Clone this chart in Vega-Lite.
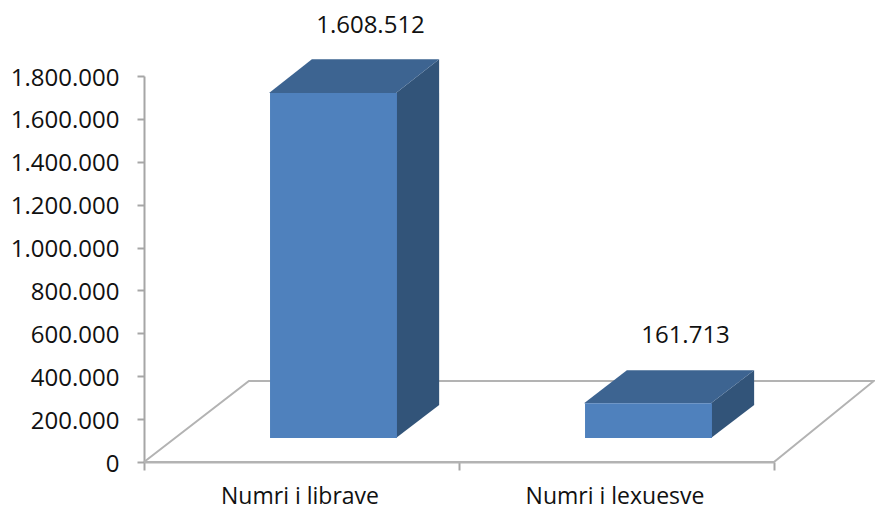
{
"$schema":"https://vega.github.io/schema/vega-lite/v6.json",
"width":630,"height":386,
"autosize":{"type":"none"},
"padding":{"left":144,"top":76,"right":101,"bottom":47},
"background":"white",
"config":{"view":{"stroke":null},"locale":{"number":{"decimal":",","thousands":".","grouping":[3],"currency":["","€"]}}},
"datasets":{
"bars":[{"category":"Numri i librave","value":1608512},{"category":"Numri i lexuesve","value":161713}],
"floor":[
{"px":0,"py":0,"o":1},{"px":0.333,"py":378000,"o":2},{"px":2.317,"py":378000,"o":3},{"px":2,"py":0,"o":4},{"px":0,"py":0,"o":5}],
"faces":[
{"face":"side1","shade":"side","px":0.8,"lo":112000,"hi":1720512},
{"face":"side1","shade":"side","px":0.937,"lo":266000,"hi":1878000},
{"face":"top1","shade":"top","px":0.397,"lo":1720512,"hi":1720512},
{"face":"top1","shade":"top","px":0.533,"lo":1720512,"hi":1878000},
{"face":"top1","shade":"top","px":0.8,"lo":1720512,"hi":1878000},
{"face":"top1","shade":"top","px":0.937,"lo":1878000,"hi":1878000},
{"face":"side2","shade":"side","px":1.8,"lo":112000,"hi":273713},
{"face":"side2","shade":"side","px":1.937,"lo":266000,"hi":427713},
{"face":"top2","shade":"top","px":1.397,"lo":273713,"hi":273713},
{"face":"top2","shade":"top","px":1.533,"lo":273713,"hi":427713},
{"face":"top2","shade":"top","px":1.8,"lo":273713,"hi":427713},
{"face":"top2","shade":"top","px":1.937,"lo":427713,"hi":427713}
]},
"layer":[
{"data":{"name":"floor"},
"mark":{"type":"line","stroke":"#b3b3b3","strokeWidth":2,"clip":false,"interpolate":"linear"},
"encoding":{
"x":{"field":"px","type":"quantitative","scale":{"domain":[0,2],"nice":false,"zero":false},"axis":null},
"y":{"field":"py","type":"quantitative","scale":{"domain":[0,1800000],"nice":false},
"axis":{"title":null,"values":[0,200000,400000,600000,800000,1000000,1200000,1400000,1600000,1800000],"format":",d","grid":false,"domainColor":"#a6a6a6","domainWidth":2,"tickColor":"#a6a6a6","tickWidth":2,"tickSize":7,"labelFont":"Open Sans","labelFontSize":24,"labelColor":"#111111","labelPadding":18,"labelOffset":2}},
"order":{"field":"o"}}},
{"data":{"name":"faces"},
"mark":{"type":"area","clip":false},
"encoding":{
"x":{"field":"px","type":"quantitative","scale":{"domain":[0,2],"nice":false,"zero":false},"axis":null},
"y":{"field":"hi","type":"quantitative"},
"y2":{"field":"lo"},
"detail":{"field":"face"},
"color":{"field":"shade","type":"nominal","scale":{"domain":["side","top"],"range":["#325479","#3D6491"]},"legend":null}}},
{"data":{"name":"bars"},
"layer":[
{"mark":{"type":"bar","color":"#4F81BD","width":{"band":0.403},"xOffset":32,"yOffset":-24,"y2Offset":-24,"clip":false},
"encoding":{
"x":{"field":"category","type":"nominal","sort":null,"scale":{"paddingInner":0,"paddingOuter":0},
"axis":{"title":null,"labelAngle":0,"tickBand":"extent","domainColor":"#b3b3b3","domainWidth":2,"tickColor":"#a6a6a6","tickWidth":2,"tickSize":8,"labelFont":"Open Sans","labelFontSize":23,"labelColor":"#111111","labelPadding":26,"labelOffset":-2,"labelBaseline":"middle"}},
"y":{"field":"value","type":"quantitative","stack":null},
"y2":{"datum":0}}},
{"mark":{"type":"text","font":"Open Sans","fontSize":24,"color":"#111111","xOffset":69,"yOffset":-91,"clip":false},
"encoding":{
"x":{"field":"category","type":"nominal","sort":null},
"y":{"field":"value","type":"quantitative","stack":null},
"text":{"field":"value","type":"quantitative","format":",d"}}}
]}
],
"resolve":{"scale":{"x":"independent","y":"shared","color":"independent"}}
}
